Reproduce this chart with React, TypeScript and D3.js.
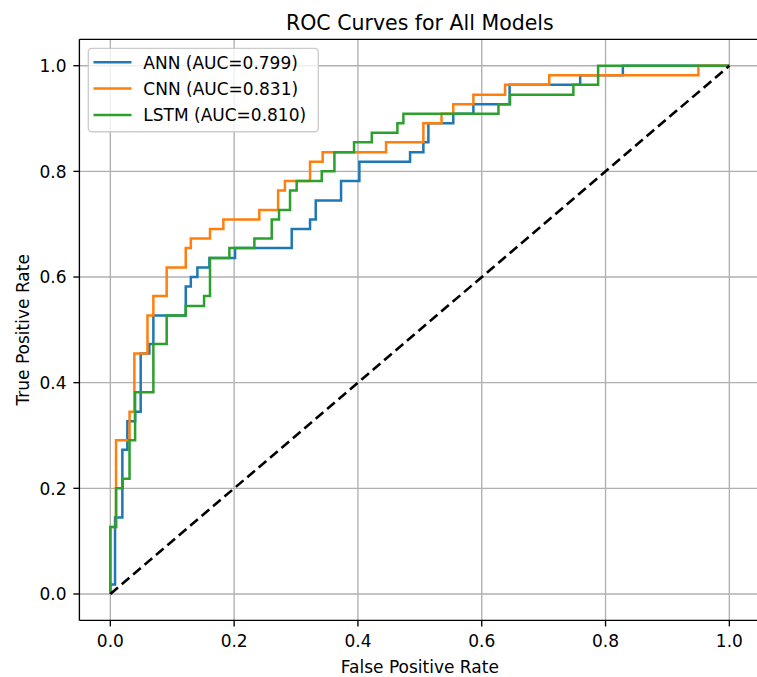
import React from 'react';
import * as d3 from 'd3';

// ROC points (fpr, tpr at each step corner)
const annFpr = [0, 0, 0.0076, 0.0194, 0.0275, 0.04, 0.049, 0.063, 0.0695, 0.1218, 0.130, 0.1406, 0.160, 0.2015, 0.293, 0.3226, 0.3318, 0.3727, 0.4023, 0.4842, 0.5057, 0.5138, 0.554, 0.5865, 0.645, 0.759, 0.828, 1];
const annTpr = [0, 0.018, 0.145, 0.273, 0.327, 0.345, 0.455, 0.473, 0.527, 0.582, 0.6, 0.618, 0.636, 0.655, 0.691, 0.709, 0.745, 0.782, 0.818, 0.836, 0.855, 0.891, 0.909, 0.927, 0.964, 0.982, 1, 1];

const cnnFpr = [0, 0, 0.0092, 0.031, 0.0388, 0.06, 0.0695, 0.091, 0.1218, 0.130, 0.161, 0.1826, 0.2407, 0.271, 0.282, 0.3226, 0.343, 0.4454, 0.5057, 0.535, 0.554, 0.5865, 0.6377, 0.709, 0.950, 1];
const cnnTpr = [0, 0.127, 0.291, 0.345, 0.455, 0.527, 0.564, 0.618, 0.655, 0.673, 0.691, 0.709, 0.727, 0.764, 0.782, 0.818, 0.836, 0.855, 0.891, 0.909, 0.927, 0.945, 0.964, 0.982, 1, 1];

const lstmFpr = [0, 0, 0.0092, 0.02, 0.031, 0.04, 0.0695, 0.091, 0.1218, 0.1514, 0.161, 0.1923, 0.2327, 0.2607, 0.2725, 0.2903, 0.301, 0.3415, 0.362, 0.3937, 0.4223, 0.4637, 0.4734, 0.627, 0.6457, 0.748, 0.788, 1];
const lstmTpr = [0, 0.127, 0.2, 0.218, 0.291, 0.382, 0.473, 0.527, 0.545, 0.564, 0.636, 0.655, 0.673, 0.709, 0.727, 0.764, 0.782, 0.8, 0.836, 0.855, 0.873, 0.891, 0.909, 0.927, 0.945, 0.964, 1, 1];

const modelNames = ['ANN (AUC=0.799)', 'CNN (AUC=0.831)', 'LSTM (AUC=0.810)'];
const modelColors = ['#1f77b4', '#ff7f0e', '#2ca02c'];
const tickValues = [0, 0.2, 0.4, 0.6, 0.8, 1.0];

const W = 757;
const H = 677;
const font = 'DejaVu Sans, sans-serif';

export default function App() {
  const left = 79.4, right = 760.3, top = 39.3, bottom = 620.4;

  const x = d3.scaleLinear().domain([-0.05, 1.05]).range([left, right]);
  const y = d3.scaleLinear().domain([-0.05, 1.05]).range([bottom, top]);

  const line = d3.line<[number, number]>()
    .x(d => x(d[0]))
    .y(d => y(d[1]))
    .curve(d3.curveStepAfter);

  const series = [
    d3.zip(annFpr, annTpr) as [number, number][],
    d3.zip(cnnFpr, cnnTpr) as [number, number][],
    d3.zip(lstmFpr, lstmTpr) as [number, number][],
  ];

  const diag = d3.line<[number, number]>().x(d => x(d[0])).y(d => y(d[1]))([[0, 0], [1, 1]]);
  const fmt = d3.format('.1f');

  const legX = 88.3, legY = 48.3, legW = 230, legH = 83.4;
  const rowY = [62.3, 88.6, 115];

  return (
    <svg width={W} height={H} style={{position: 'absolute', left: 0, top: 0, background: '#fff'}}
      fontFamily={font}>
      <rect x={0} y={0} width={W} height={H} fill="#fff" />

      {/* grid */}
      {tickValues.map(t => (
        <g key={'g' + t}>
          <line x1={x(t)} x2={x(t)} y1={top} y2={bottom} stroke="#b0b0b0" strokeWidth={1.35} />
          <line x1={left} x2={right} y1={y(t)} y2={y(t)} stroke="#b0b0b0" strokeWidth={1.35} />
        </g>
      ))}

      {/* curves */}
      {series.map((s, i) => (
        <path key={'s' + i} d={line(s) || ''} fill="none" stroke={modelColors[i]} strokeWidth={2.5}
          strokeLinejoin="miter" />
      ))}
      <path d={diag || ''} fill="none" stroke="#000" strokeWidth={2.6} strokeDasharray="10,5" />

      {/* spines */}
      <line x1={left} x2={left} y1={top} y2={bottom} stroke="#000" strokeWidth={1.35} />
      <line x1={left} x2={right} y1={bottom} y2={bottom} stroke="#000" strokeWidth={1.35} />
      <line x1={left} x2={right} y1={top} y2={top} stroke="#000" strokeWidth={1.35} />
      <line x1={right} x2={right} y1={top} y2={bottom} stroke="#000" strokeWidth={1.35} />

      {/* x axis */}
      {tickValues.map(t => (
        <g key={'x' + t}>
          <line x1={x(t)} x2={x(t)} y1={bottom} y2={bottom + 6} stroke="#000" strokeWidth={1.35} />
          <text x={x(t)} y={647} fontSize={17} textAnchor="middle" fill="#000">{fmt(t)}</text>
        </g>
      ))}
      <text x={(left + right) / 2} y={673} fontSize={17} textAnchor="middle" fill="#000">False Positive Rate</text>

      {/* y axis */}
      {tickValues.map(t => (
        <g key={'y' + t}>
          <line x1={left - 6} x2={left} y1={y(t)} y2={y(t)} stroke="#000" strokeWidth={1.35} />
          <text x={66.5} y={y(t) + 6.2} fontSize={17} textAnchor="end" fill="#000">{fmt(t)}</text>
        </g>
      ))}
      <text transform={`translate(28.5,${(top + bottom) / 2}) rotate(-90)`} fontSize={17}
        textAnchor="middle" fill="#000">True Positive Rate</text>

      {/* title */}
      <text x={(left + right) / 2} y={30} fontSize={20.5} textAnchor="middle" fill="#000">ROC Curves for All Models</text>

      {/* legend */}
      <rect x={legX} y={legY} width={legW} height={legH} rx={3.5} ry={3.5}
        fill="#fff" fillOpacity={0.8} stroke="#cccccc" strokeWidth={1.35} />
      {modelNames.map((name, i) => (
        <g key={'l' + i}>
          <line x1={93.5} x2={131.5} y1={rowY[i]} y2={rowY[i]} stroke={modelColors[i]} strokeWidth={2.5} />
          <text x={143.3} y={rowY[i] + 6.2} fontSize={17} fill="#000">{name}</text>
        </g>
      ))}
    </svg>
  );
}
